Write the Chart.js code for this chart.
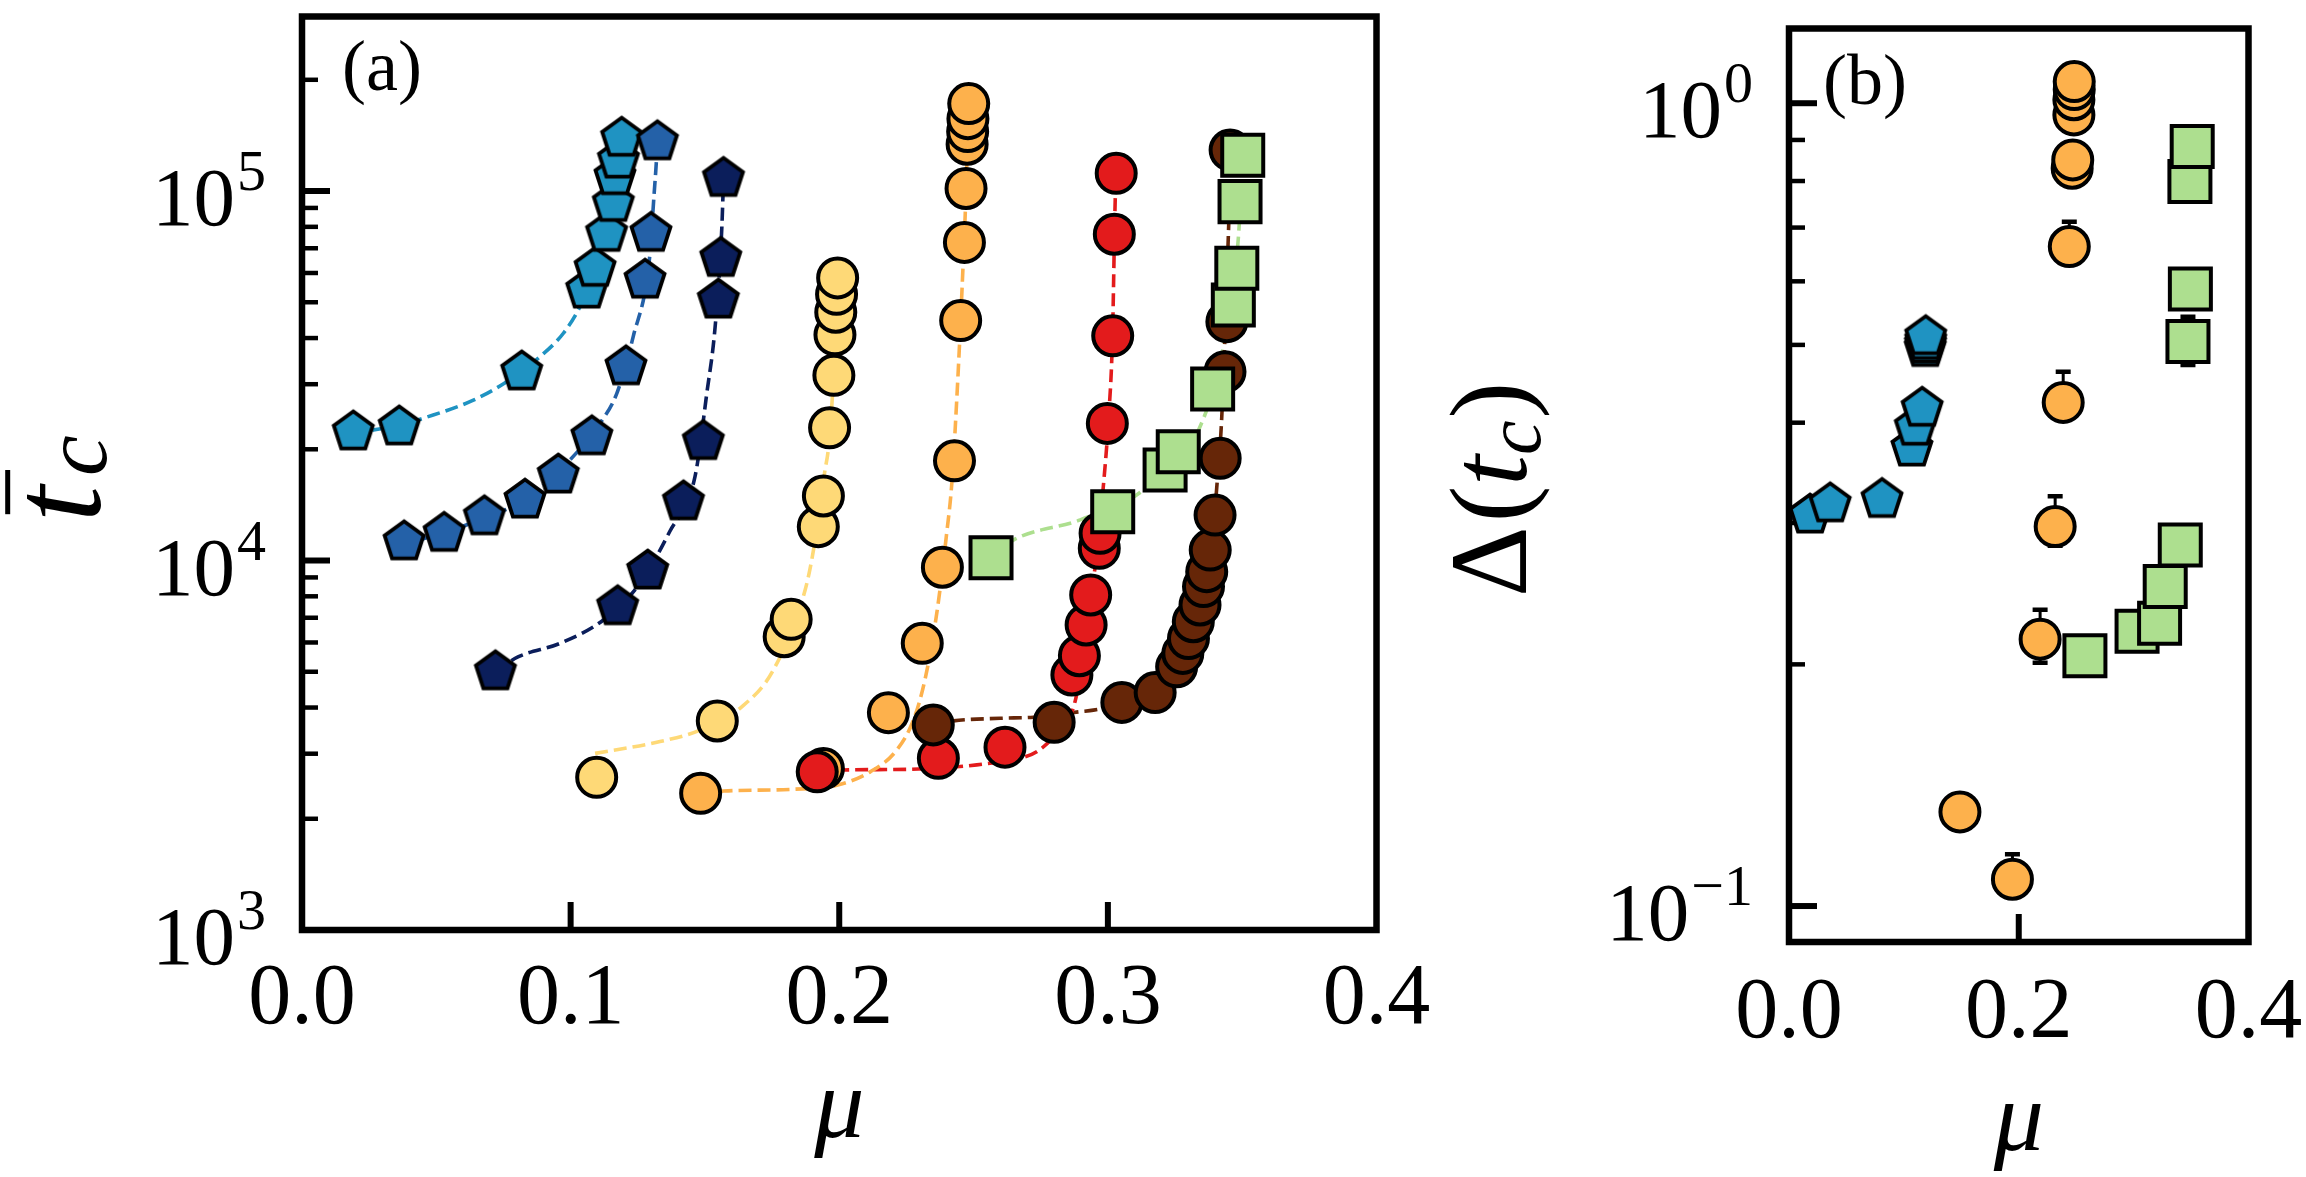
<!DOCTYPE html>
<html>
<head>
<meta charset="utf-8">
<script src="https://cdn.jsdelivr.net/npm/chart.js@4.4.1/dist/chart.umd.min.js"></script>
<style>
  html, body { margin: 0; padding: 0; background: #fff; }
  body { width: 2306px; height: 1177px; position: relative; overflow: hidden; }
  canvas { position: absolute; top: 0; }
  #chart-a { left: 0; }
  #chart-b { left: 1400px; }
  .fontwarm { position: absolute; left: -9999px; top: 0; font-family: "Liberation Serif"; }
</style>
</head>
<body>
<span class="fontwarm">0.1 10 μ Δ(t) <i>μ t c</i></span>
<canvas id="chart-a" width="1500" height="1177"></canvas>
<canvas id="chart-b" width="906" height="1177"></canvas>
<script>
// ---------- panel (a): mean t_c against mu (markers) ----------
const cyanMu = [0.0191, 0.0362, 0.0818, 0.1060, 0.1091, 0.1134, 0.1159, 0.1165, 0.1178, 0.1190];
const cyanTc = [22300, 23000, 32400, 53950, 61800, 76850, 92600, 109400, 121300, 139000];
const blueMu = [0.0380, 0.0529, 0.0679, 0.0830, 0.0954, 0.1079, 0.1206, 0.1277, 0.1299, 0.1323];
const blueTc = [11240, 11850, 13140, 14580, 17040, 21630, 33460, 57410, 76850, 135960];
const navyMu = [0.0720, 0.1175, 0.1287, 0.1420, 0.1494, 0.1550, 0.1559, 0.1569];
const navyTc = [5000, 7500, 9370, 14420, 21000, 50700, 65730, 108200];
const yellowMu = [0.1097, 0.1546, 0.1795, 0.1821, 0.1922, 0.1941, 0.1964, 0.1980, 0.1984, 0.1987, 0.1990, 0.1994];
const yellowTc = [2590, 3680, 6220, 6930, 12350, 14950, 22860, 31700, 40800, 47000, 52550, 58200];
const orangeMu = [0.1484, 0.1941, 0.2183, 0.2309, 0.2384, 0.2429, 0.2452, 0.2466, 0.2472, 0.2476, 0.2478, 0.2479, 0.2482];
const orangeTc = [2344, 2735, 3875, 5970, 9590, 18620, 44620, 72600, 101600, 133900, 144900, 157000, 172400];
const redMu = [0.1918, 0.2369, 0.2617, 0.2866, 0.2894, 0.2919, 0.2936, 0.2968, 0.2971, 0.2998, 0.3018, 0.3024, 0.3031];
const redTc = [2680, 2915, 3125, 4900, 5524, 6692, 8066, 10790, 11850, 23500, 40550, 76400, 111700];
const brownMu = [0.2350, 0.2800, 0.3052, 0.3176, 0.3256, 0.3279, 0.3300, 0.3318, 0.3343, 0.3356, 0.3368, 0.3381, 0.3399, 0.3418, 0.3436, 0.3443, 0.3455];
const brownTc = [3590, 3648, 4130, 4393, 5155, 5605, 6150, 6830, 7580, 8500, 9330, 10670, 13270, 18910, 32430, 44300, 129100];
const greenMu = [0.2565, 0.3018, 0.3213, 0.3262, 0.3390, 0.3467, 0.3480, 0.3492, 0.3502];
const greenTc = [10180, 13560, 17580, 19700, 29100, 49150, 61800, 93600, 125000];

// ---------- panel (a): dashed fit curves ----------
const fitCyanMu = [0.0191, 0.0361, 0.0452, 0.0638, 0.0762, 0.0886, 0.0973, 0.1035, 0.1060, 0.1095, 0.1132, 0.1158, 0.1173, 0.1188];
const fitCyanTc = [22180, 23170, 24270, 27160, 30480, 35610, 41210, 48640, 53700, 63100, 77600, 93300, 112200, 141300];
const fitBlueMu = [0.0380, 0.0529, 0.0678, 0.0830, 0.0985, 0.1109, 0.1172, 0.1233, 0.1293, 0.1311, 0.1318, 0.1324];
const fitBlueTc = [11090, 11890, 13030, 14620, 18320, 23500, 28350, 40360, 65010, 98620, 116400, 138000];
const fitNavyMu = [0.0720, 0.0804, 0.0961, 0.1122, 0.1258, 0.1370, 0.1463, 0.1507, 0.1538, 0.1563, 0.1569];
const fitNavyTc = [5012, 5483, 5970, 6902, 8670, 12020, 16870, 28350, 42950, 79980, 107200];
const fitYellowMu = [0.1091, 0.1333, 0.1482, 0.1637, 0.1755, 0.1873, 0.1904, 0.1947, 0.1959, 0.1975, 0.1985, 0.1994];
const fitYellowTc = [3006, 3236, 3475, 4018, 5058, 8318, 10670, 17580, 19910, 28180, 39810, 58480];
const fitOrangeMu = [0.1484, 0.1569, 0.1829, 0.1991, 0.2115, 0.2214, 0.2276, 0.2319, 0.2363, 0.2400, 0.2419, 0.2442, 0.2461, 0.2472, 0.2481];
const fitOrangeTc = [2344, 2377, 2404, 2466, 2679, 3069, 3698, 4753, 7194, 11860, 16180, 31620, 63100, 100000, 173800];
const fitRedMu = [0.1918, 0.2015, 0.2264, 0.2512, 0.2692, 0.2735, 0.2797, 0.2882, 0.2919, 0.2952, 0.2983, 0.3004, 0.3017, 0.3027, 0.3032];
const fitRedTc = [2679, 2710, 2723, 2799, 2944, 3037, 3334, 4276, 6607, 9550, 15850, 25120, 39810, 92680, 114800];
const fitBrownMu = [0.2350, 0.2425, 0.2599, 0.2723, 0.2897, 0.2946, 0.3120, 0.3213, 0.3287, 0.3343, 0.3381, 0.3406, 0.3424, 0.3449, 0.3459];
const fitBrownTc = [3589, 3681, 3741, 3767, 3899, 3936, 4217, 4624, 5623, 7244, 10000, 16000, 24490, 77620, 131800];
const fitGreenMu = [0.2565, 0.2648, 0.2897, 0.3132, 0.3343, 0.3436, 0.3486, 0.3503];
const fitGreenTc = [10190, 11360, 12880, 15520, 23010, 39810, 75160, 125900];

// ---------- panel (b): Delta(t_c) against mu ----------
const bCyanMu = [0.0183, 0.0358, 0.0810, 0.1070, 0.1100, 0.1159, 0.1186, 0.1188, 0.1190, 0.1190];
const bCyanD = [0.307, 0.317, 0.321, 0.372, 0.395, 0.417, 0.495, 0.500, 0.505, 0.512];
const bCyanErrLo = [0, 0.008, 0, 0, 0, 0, 0, 0, 0, 0];
const bCyanErrHi = [0, 0.008, 0, 0, 0, 0, 0, 0, 0, 0];
const bOrangeMu = [0.1488, 0.1945, 0.2186, 0.2317, 0.2387, 0.2440, 0.2465, 0.2470, 0.2480, 0.2480, 0.2483, 0.2483];
const bOrangeD = [0.131, 0.108, 0.215, 0.297, 0.424, 0.663, 0.830, 0.850, 0.967, 1.010, 1.040, 1.064];
const bOrangeErrLo = [0, 0.005, 0.014, 0.016, 0.020, 0.030, 0, 0, 0, 0, 0, 0];
const bOrangeErrHi = [0, 0.008, 0.019, 0.027, 0.039, 0.049, 0, 0, 0, 0, 0, 0];
const bGreenMu = [0.2576, 0.3030, 0.3226, 0.3275, 0.3406, 0.3473, 0.3494, 0.3490, 0.3510];
const bGreenD = [0.205, 0.220, 0.225, 0.250, 0.2817, 0.505, 0.587, 0.799, 0.883];
const bGreenErrLo = [0, 0, 0, 0, 0, 0.033, 0, 0, 0];
const bGreenErrHi = [0, 0, 0, 0, 0, 0.037, 0, 0, 0];

// ---------- axes: ticks and labels ----------
const muTicksA = [0.1, 0.2, 0.3];
const muLabelsA = ['0.0', '0.1', '0.2', '0.3', '0.4'];
const tcMajor = [1e4, 1e5];
const tcMinor = [2e3, 3e3, 4e3, 5e3, 6e3, 7e3, 8e3, 9e3, 2e4, 3e4, 4e4, 5e4, 6e4, 7e4, 8e4, 9e4, 2e5];
const tcLabels = [[1e3, '3'], [1e4, '4'], [1e5, '5']];
const muTicksB = [0.2];
const muLabelsB = ['0.0', '0.2', '0.4'];
const dMajor = [0.1, 1];
const dMinor = [0.2, 0.3, 0.4, 0.5, 0.6, 0.7, 0.8, 0.9];
const dLabels = [[0.1, '\u22121'], [1, '0']];

const C = {
  cyan: '#1f93c2', blue: '#2461a8', navy: '#0b1e5b',
  yellow: '#fed977', orange: '#fdb14c', red: '#e31b1c', brown: '#662608', green: '#addf8f',
};
const SERIF = '"Liberation Serif", "DejaVu Serif", serif';

const xy = (xs, ys) => xs.map((v, i) => ({ x: v, y: ys[i] }));

function pentagon(fill) {
  const s = 52, c = document.createElement('canvas');
  c.width = s; c.height = s;
  const g = c.getContext('2d');
  const R = 20.5;
  g.beginPath();
  for (let i = 0; i < 5; i++) {
    const t = -Math.PI / 2 + i * 2 * Math.PI / 5;
    const px = s / 2 + R * Math.cos(t), py = s / 2 + R * Math.sin(t);
    if (i) g.lineTo(px, py); else g.moveTo(px, py);
  }
  g.closePath();
  g.fillStyle = fill; g.fill();
  g.lineWidth = 3.8; g.lineJoin = 'miter'; g.strokeStyle = '#000'; g.stroke();
  return c;
}

// marker dataset; lower order = drawn on top
function marks(xs, ys, color, shape, order) {
  const base = { data: xy(xs, ys), showLine: false, order, pointBorderColor: '#000', pointBorderWidth: 4, pointBackgroundColor: color };
  if (shape === 'pent') return { ...base, pointStyle: pentagon(color), pointRadius: 21 };
  if (shape === 'rect') return { ...base, pointStyle: 'rect', pointRadius: 29 };
  return { ...base, pointStyle: 'circle', pointRadius: 19.5 };
}

function fit(xs, ys, color) {
  return { data: xy(xs, ys), showLine: true, borderColor: color, borderWidth: 3.6, borderDash: [13, 6],
    pointRadius: 0, cubicInterpolationMode: 'monotone', fill: false, order: 100 };
}

function errs(xs, ys, lo, hi) {
  const out = [];
  xs.forEach((v, i) => {
    if (!lo[i] && !hi[i]) return;
    out.push({ data: [{ x: v, y: ys[i] - lo[i] }, { x: v, y: ys[i] + hi[i] }], showLine: true,
      borderColor: '#000', borderWidth: 3, pointStyle: 'line', pointRadius: 7.5,
      pointBorderWidth: 4.5, pointBorderColor: '#000', order: 60 });
  });
  return out;
}

function seg(ctx, x1, y1, x2, y2) { ctx.beginPath(); ctx.moveTo(x1, y1); ctx.lineTo(x2, y2); ctx.stroke(); }

// rotated rich text (reads bottom to top); parts: {t, size, italic, dy, bar}
function vText(ctx, x, y, parts) {
  ctx.save();
  ctx.translate(x, y);
  ctx.rotate(-Math.PI / 2);
  ctx.textAlign = 'left'; ctx.textBaseline = 'alphabetic';
  let cx = 0;
  parts.forEach((p) => {
    cx += p.gap || 0;
    ctx.font = `${p.italic ? 'italic ' : ''}${p.size}px ${SERIF}`;
    const w = ctx.measureText(p.t).width;
    ctx.fillText(p.t, cx, p.dy || 0);
    if (p.bar) {
      ctx.lineWidth = 5;
      seg(ctx, cx + 0.06 * p.size, -0.71 * p.size, cx + 0.40 * p.size, -0.71 * p.size);
    }
    cx += w;
  });
  ctx.restore();
}

// frame, inward ticks and labels, placed through the chart's own scales
const decor = {
  id: 'decor',
  beforeDatasetsDraw(chart, _args, o) {
    const { ctx, chartArea: a, scales: { x, y } } = chart;
    ctx.save();
    ctx.strokeStyle = '#000';
    ctx.lineWidth = 6;
    o.xMajor.forEach((v) => { const p = x.getPixelForValue(v); seg(ctx, p, a.bottom, p, a.bottom - 28); });
    o.yMajor.forEach((v) => { const p = y.getPixelForValue(v); seg(ctx, a.left, p, a.left + 28, p); });
    ctx.lineWidth = 4.5;
    o.yMinor.forEach((v) => { const p = y.getPixelForValue(v); seg(ctx, a.left, p, a.left + 16, p); });
    ctx.restore();
  },
  afterDraw(chart, _args, o) {
    const { ctx, chartArea: a, scales: { x, y } } = chart;
    ctx.save();
    ctx.strokeStyle = '#000';
    ctx.lineWidth = 6.5;
    ctx.strokeRect(a.left, a.top, a.right - a.left, a.bottom - a.top);
    ctx.fillStyle = '#000';
    // x tick labels
    ctx.font = `86px ${SERIF}`;
    ctx.textAlign = 'center'; ctx.textBaseline = 'alphabetic';
    o.xLabels.forEach((s) => ctx.fillText(s, x.getPixelForValue(parseFloat(s)), a.bottom + o.xLabelGap));
    // y tick labels 10^k
    ctx.textAlign = 'right';
    o.yLabels.forEach(([v, e]) => {
      const p = y.getPixelForValue(v);
      ctx.font = `58px ${SERIF}`;
      const w = ctx.measureText(e).width;
      ctx.fillText(e, a.left - 36, p - 1);
      ctx.font = `83px ${SERIF}`;
      ctx.fillText('10', a.left - 38 - w, p + 34);
    });
    // panel tag
    ctx.textAlign = 'left';
    ctx.font = `72px ${SERIF}`;
    ctx.fillText(o.tag, a.left + o.tagDx, a.top + o.tagDy);
    // x title
    ctx.textAlign = 'center';
    ctx.font = `italic 100px ${SERIF}`;
    ctx.fillText('\u03bc', (a.left + a.right) / 2, o.xTitleY);
    ctx.restore();
    vText(ctx, o.yTitle.x, o.yTitle.y, o.yTitle.parts);
  },
};

function baseOptions(xOpt, yOpt, pad, decorOpt) {
  return {
    responsive: false, animation: false, events: [], devicePixelRatio: 1,
    layout: { padding: pad, autoPadding: false },
    plugins: { legend: { display: false }, tooltip: { enabled: false }, decor: decorOpt },
    scales: {
      x: { type: 'linear', min: 0, max: 0.4, grid: { display: false }, border: { display: false },
        ticks: { display: false }, afterFit: (s) => { s.height = xOpt.h; } },
      y: { type: 'logarithmic', min: yOpt.min, max: yOpt.max, grid: { display: false }, border: { display: false },
        ticks: { display: false }, afterFit: (s) => { s.width = yOpt.w; } },
    },
  };
}

function build() {
  new Chart(document.getElementById('chart-a'), {
    type: 'scatter',
    plugins: [decor],
    data: {
      datasets: [
        fit(fitCyanMu, fitCyanTc, C.cyan),
        fit(fitBlueMu, fitBlueTc, C.blue),
        fit(fitNavyMu, fitNavyTc, C.navy),
        fit(fitYellowMu, fitYellowTc, C.yellow),
        fit(fitOrangeMu, fitOrangeTc, C.orange),
        fit(fitRedMu, fitRedTc, C.red),
        fit(fitBrownMu, fitBrownTc, C.brown),
        fit(fitGreenMu, fitGreenTc, C.green),
        marks(cyanMu, cyanTc, C.cyan, 'pent', 8),
        marks(blueMu, blueTc, C.blue, 'pent', 7),
        marks(navyMu, navyTc, C.navy, 'pent', 6),
        marks(yellowMu, yellowTc, C.yellow, 'circle', 5),
        marks(orangeMu, orangeTc, C.orange, 'circle', 4),
        marks(redMu, redTc, C.red, 'circle', 3),
        marks(brownMu, brownTc, C.brown, 'circle', 2),
        marks(greenMu, greenTc, C.green, 'rect', 1),
      ],
    },
    options: baseOptions({ h: 247 }, { min: 1000, max: 296700, w: 302 },
      { left: 0, top: 16.5, right: 123.5, bottom: 0 },
      { xMajor: muTicksA, yMajor: tcMajor, yMinor: tcMinor, xLabels: muLabelsA, yLabels: tcLabels,
        xLabelGap: 93, tag: '(a)', tagDx: 40, tagDy: 73, xTitleY: 1137,
        yTitle: { x: 100, y: 522, parts: [
          { t: 't', size: 130, italic: true, bar: true },
          { t: 'c', size: 92, italic: true, dy: 6, gap: 10 },
        ] } }),
  });

  new Chart(document.getElementById('chart-b'), {
    type: 'scatter',
    plugins: [decor],
    data: {
      datasets: [
        ...errs(bCyanMu, bCyanD, bCyanErrLo, bCyanErrHi),
        ...errs(bOrangeMu, bOrangeD, bOrangeErrLo, bOrangeErrHi),
        ...errs(bGreenMu, bGreenD, bGreenErrLo, bGreenErrHi),
        marks(bCyanMu, bCyanD, C.cyan, 'pent', 3),
        marks(bOrangeMu, bOrangeD, C.orange, 'circle', 2),
        marks(bGreenMu, bGreenD, C.green, 'rect', 1),
      ],
    },
    options: baseOptions({ h: 235 }, { min: 0.0902, max: 1.239, w: 389 },
      { left: 0, top: 28.5, right: 57.5, bottom: 0 },
      { xMajor: muTicksB, yMajor: dMajor, yMinor: dMinor, xLabels: muLabelsB, yLabels: dLabels,
        xLabelGap: 95, tag: '(b)', tagDx: 34, tagDy: 75, xTitleY: 1150,
        yTitle: { x: 126, y: 597, parts: [
          { t: '\u0394', size: 110 },
          { t: '(', size: 110, gap: 4 },
          { t: 't', size: 110, italic: true },
          { t: 'c', size: 78, italic: true, dy: 14 },
          { t: ')', size: 110, gap: 2 },
        ] } }),
  });
}

if (document.fonts && document.fonts.load) {
  Promise.all([
    document.fonts.load(`80px "Liberation Serif"`),
    document.fonts.load(`italic 80px "Liberation Serif"`),
  ]).then(build, build);
} else {
  build();
}
</script>
</body>
</html>
